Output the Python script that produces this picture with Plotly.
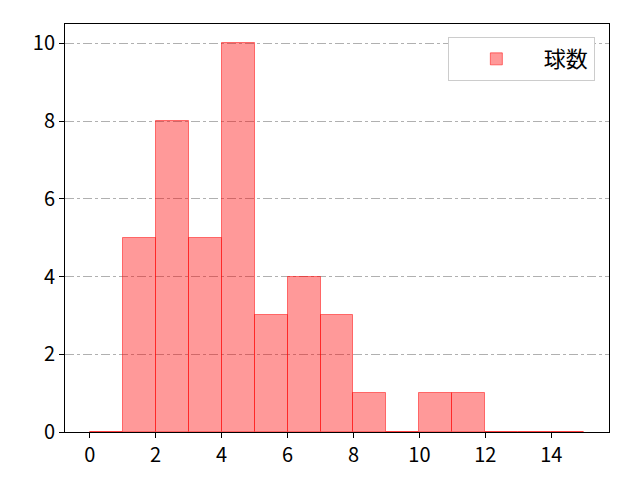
import plotly.graph_objects as go

# histogram bins (left edges, width 1) and counts per bin
bin_left = list(range(15))
counts = [0, 5, 8, 5, 10, 3, 4, 3, 1, 0, 1, 1, 0, 0, 0]
series_name = "球数"

x_ticks = [0, 2, 4, 6, 8, 10, 12, 14]
y_ticks = [0, 2, 4, 6, 8, 10]

fig = go.Figure()

fig.add_trace(go.Bar(
    x=bin_left,
    y=counts,
    width=1,
    offset=0,
    name=series_name,
    marker=dict(color="rgba(255,0,0,0.4)",
                line=dict(color="rgba(255,0,0,0.5)", width=1)),
    showlegend=True,
))

axis_style = dict(
    showline=True, linecolor="black", linewidth=1, mirror=True,
    ticks="outside", ticklen=5, tickcolor="black",
    tickfont=dict(size=20, color="black"),
    zeroline=False,
)

fig.update_xaxes(range=[-0.75, 15.75], tickvals=x_ticks, showgrid=False, **axis_style)
fig.update_yaxes(range=[0, 10.5], tickvals=y_ticks, showgrid=True,
                 gridcolor="#b0b0b0", griddash="dashdot", gridwidth=1, **axis_style)

# page body has an 8px offset, so margins are shifted to compensate
fig.update_layout(
    width=640, height=480,
    margin=dict(l=57, r=39, t=16, b=56),
    plot_bgcolor="white", paper_bgcolor="white",
    font=dict(family="Noto Sans CJK JP", size=20, color="black"),
    bargap=0,
    legend=dict(x=0.974, y=0.968, xanchor="right", yanchor="top",
                bgcolor="white", bordercolor="#cccccc", borderwidth=1,
                itemwidth=85, font=dict(size=22)),
)

fig.write_html("out.html")
